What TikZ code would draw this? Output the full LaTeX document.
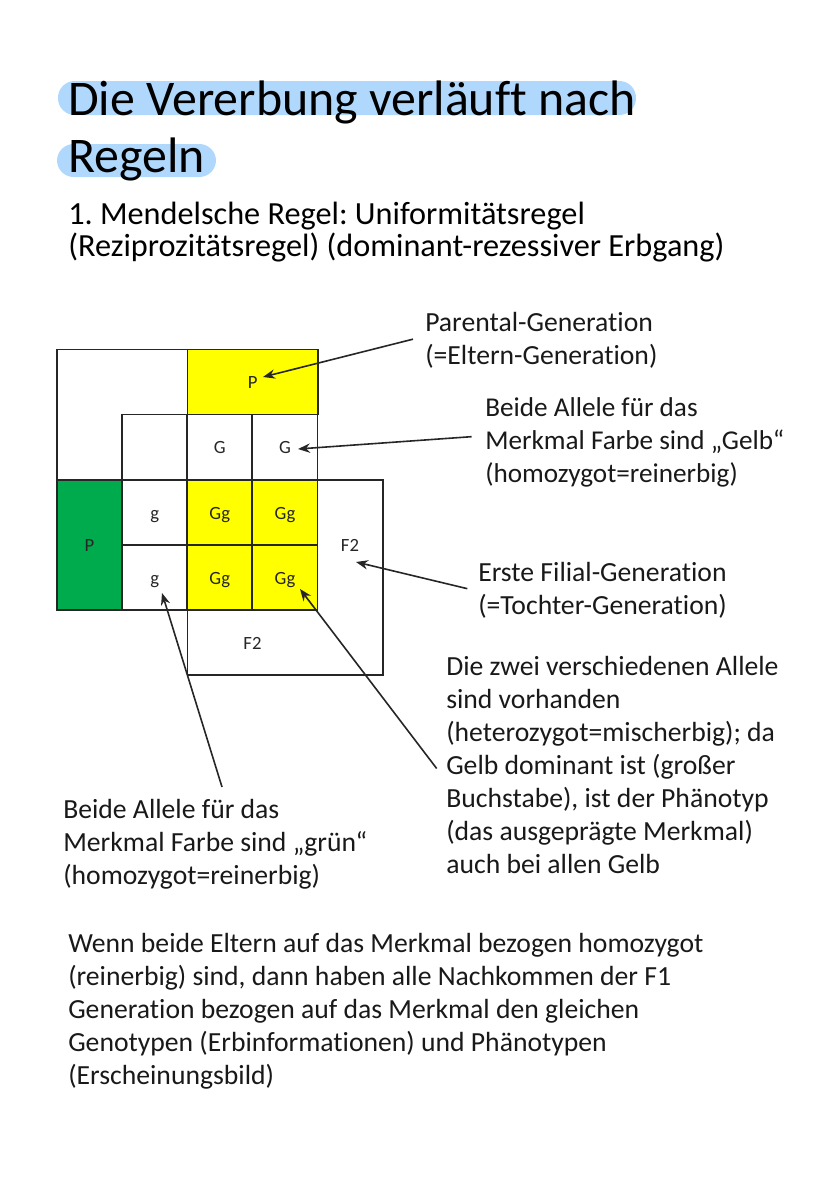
\documentclass[tikz,border=0pt]{standalone}
\usepackage{fontspec}
\setmainfont[Ligatures=NoCommon]{Carlito}
\usetikzlibrary{arrows.meta}
\definecolor{markerblue}{HTML}{B0D8FC}
\definecolor{cellyellow}{HTML}{FFFF00}
\definecolor{cellgreen}{HTML}{00AB4E}
\tikzset{
	cell/.style={draw=black!85, line width=1.3pt, outer sep=0pt, minimum width=48.9pt, minimum height=48.9pt, inner sep=0pt, text height=10pt, text depth=0pt, font=\fontsize{14}{16}\selectfont, text=black!85},
	wide/.style={cell, minimum width=97.9pt},
	tall/.style={cell, minimum height=97.9pt},
	plain/.style={inner sep=0pt, text height=10pt, text depth=0pt, font=\fontsize{14}{16}\selectfont, text=black!85},
	info/.style={anchor=west, align=left, inner sep=0pt, font=\fontsize{20.75}{24.75}\selectfont, text=black!90},
	marker/.style={fill=markerblue, rounded corners=12.5pt},
	pointer/.style={draw=black!85, line width=1.2pt, -{Stealth[length=9pt, width=7pt]}}
}
\begin{document}
\frenchspacing
\begin{tikzpicture}[x=0.75pt, y=-0.75pt]
	\useasboundingbox (0, 0) rectangle (828, 1196);
	%%%%% HEADING %%%%%
	\fill[marker] (58, 81) rectangle (636, 115);
	\fill[marker] (57, 144) rectangle (216, 177);
	\node[info, font=\fontsize{37.4}{42.5}\selectfont, text=black] (titel) at (68, 131) {Die Vererbung verläuft nach\\Regeln};
	\node[info, font=\fontsize{24.2}{24.5}\selectfont, text=black] (regel) at (68, 232) {1. Mendelsche Regel: Uniformitätsregel\\(Reziprozitätsregel) (dominant-rezessiver Erbgang)};

	%%%%% SQUARE %%%%%
	\draw[draw=black!85, line width=1.3pt] (57, 349.5) rectangle (187.5, 480);
	\draw[draw=black!85, line width=1.3pt] (318, 480) -- (383, 480) -- (383, 675) -- (187.5, 675) -- (187.5, 610);
	\node[wide, fill=cellyellow] (eltergelb) at (252.75, 382) {P};
	\node[tall, fill=cellgreen] (eltergruen) at (89.5, 545) {P};
	\node[cell] (leer) at (154.75, 447) {};
	\node[cell] (gross1) at (219.75, 447) {G};
	\node[cell] (gross2) at (285, 447) {G};
	\node[cell] (klein1) at (154.75, 512.5) {g};
	\node[cell] (klein2) at (154.75, 577.5) {g};
	\node[cell, fill=cellyellow] (misch1) at (219.75, 512.5) {Gg};
	\node[cell, fill=cellyellow] (misch2) at (285, 512.5) {Gg};
	\node[cell, fill=cellyellow] (misch3) at (219.75, 577.5) {Gg};
	\node[cell, fill=cellyellow] (misch4) at (285, 577.5) {Gg};
	\node[plain] (enkelrechts) at (350, 545) {F2};
	\node[plain] (enkelunten) at (252.5, 643) {F2};

	%%%%% NOTES %%%%%
	\node[info] (parental) at (425, 340.5) {Parental-Generation\\(=Eltern-Generation)};
	\node[info, font=\fontsize{20.4}{24.75}\selectfont] (gelb) at (485, 442) {Beide Allele für das\\Merkmal Farbe sind „Gelb“\\(homozygot=reinerbig)};
	\node[info] (filial) at (478, 590) {Erste Filial-Generation\\(=Tochter-Generation)};
	\node[info] (misch) at (446, 764.5) {Die zwei verschiedenen Allele\\sind vorhanden\\(heterozygot=mischerbig); da\\Gelb dominant ist (großer\\Buchstabe), ist der Phänotyp\\(das ausgeprägte Merkmal)\\auch bei allen Gelb};
	\node[info] (gruen) at (63, 844) {Beide Allele für das\\Merkmal Farbe sind „grün“\\(homozygot=reinerbig)};
	\node[info] (fazit) at (68, 1011.5) {Wenn beide Eltern auf das Merkmal bezogen homozygot\\(reinerbig) sind, dann haben alle Nachkommen der F1\\Generation bezogen auf das Merkmal den gleichen\\Genotypen (Erbinformationen) und Phänotypen\\(Erscheinungsbild)};

	%%%%% ARROWS %%%%%
	\coordinate (tipeltern) at (263, 377);
	\coordinate (tipgross) at (298, 449);
	\coordinate (tipenkel) at (356, 562);
	\coordinate (tipmisch) at (300, 589);
	\coordinate (tipklein) at (162, 593);
	\coordinate (startgruen) at (222, 787);
	\draw[pointer] ([xshift=-9pt, yshift=1pt]parental.west) -- (tipeltern);
	\draw[pointer] ([xshift=-10pt, yshift=4pt]gelb.west) -- (tipgross);
	\draw[pointer] ([xshift=-8pt, yshift=1pt]filial.west) -- (tipenkel);
	\draw[pointer] ([xshift=-7pt, yshift=-3pt]misch.west) -- (tipmisch);
	\draw[pointer] (startgruen) -- (tipklein);
\end{tikzpicture}
\end{document}
